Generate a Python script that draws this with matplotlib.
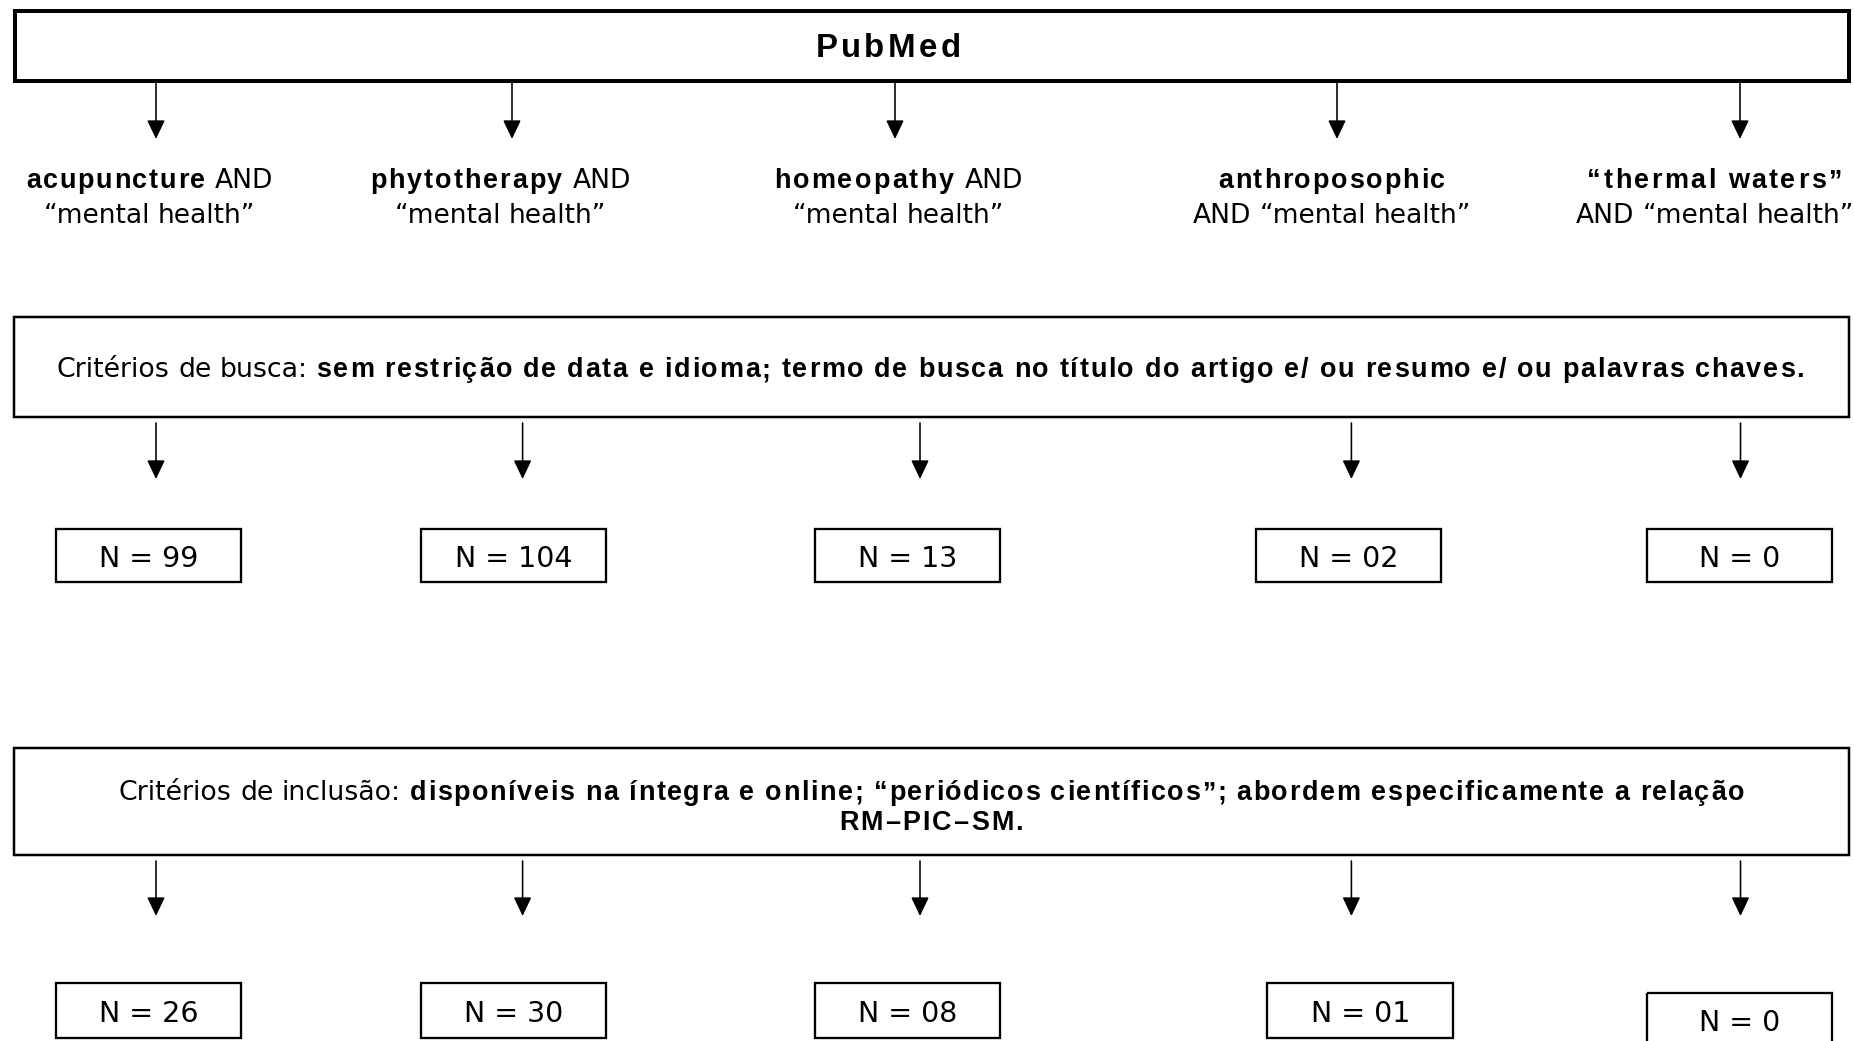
import matplotlib
matplotlib.use('Agg')
import matplotlib.pyplot as plt
from matplotlib.patches import Rectangle

# ---------------- data ----------------
source = "PubMed"
terms = ["acupuncture", "phytotherapy", "homeopathy", "anthroposophic", "“thermal waters”"]
search_counts = ["99", "104", "13", "02", "0"]
included_counts = ["26", "30", "08", "01", "0"]
search_label = "Critérios de busca: "
search_text = ("sem restrição de data e idioma; termo de busca no título do artigo "
               "e/ ou resumo e/ ou palavras chaves.")
incl_label = "Critérios de inclusão: "
incl_text_1 = ("disponíveis na íntegra e online; “periódicos científicos”; "
               "abordem especificamente a relação")
incl_text_2 = "RM–PIC–SM."
query_suffix = "“mental health”"

# ---------------- layout (pixels) ----------------
W, H, DPI = 1854, 1041, 100
fig = plt.figure(figsize=(W / DPI, H / DPI), dpi=DPI)
ax = fig.add_axes([0, 0, 1, 1])
ax.set_xlim(0, W)
ax.set_ylim(H, 0)
ax.axis('off')
fig.canvas.draw()
renderer = fig.canvas.get_renderer()

REG = dict(family='DejaVu Sans', weight='normal')
BOLD = dict(family='Liberation Sans', weight='bold')
PT = 72.0 / DPI

_cache = {}


def adv(txt, style, size):
    key = (txt, style, size)
    if key not in _cache:
        props = REG if style == 'r' else BOLD
        t1 = ax.text(0, 0, 'H' + txt + 'H', fontsize=size * PT, **props)
        t2 = ax.text(0, 0, 'HH', fontsize=size * PT, **props)
        w = t1.get_window_extent(renderer).width - t2.get_window_extent(renderer).width
        t1.remove()
        t2.remove()
        _cache[key] = w
    return _cache[key]


def draw_line(segs, cx, base, width=None, track=0.0):
    pieces = []
    for txt, style, size in segs:
        if style == 'b':
            for c in txt:
                pieces.append((c, style, size, True))
        else:
            for i, part in enumerate(txt.split(' ')):
                if i > 0:
                    pieces.append((' ', style, size, False))
                if part:
                    pieces.append((part, style, size, False))
    natural = sum(adv(p[0], p[1], p[2]) for p in pieces)
    ntr = sum(1 for p in pieces if p[3])
    if pieces and pieces[-1][3]:
        ntr -= 1
    if width is not None and ntr > 0:
        track = (width - natural) / ntr
    total = natural + track * max(ntr, 0)
    x = cx - total / 2
    for i, (txt, style, size, tr) in enumerate(pieces):
        props = REG if style == 'r' else BOLD
        if txt.strip():
            ax.text(x, base, txt, fontsize=size * PT, ha='left', va='baseline',
                    color='black', **props)
        x += adv(txt, style, size)
        if tr and i < len(pieces) - 1:
            x += track


def box(x0, y0, x1, y1, lw_px):
    ax.add_patch(Rectangle((x0, y0), x1 - x0, y1 - y0, fill=False,
                           edgecolor='black', linewidth=lw_px * PT))


def arrow(x, y0, y1):
    ax.annotate('', xy=(x, y1), xytext=(x, y0),
                arrowprops=dict(arrowstyle='-|>,head_length=0.8,head_width=0.38',
                                mutation_scale=20 * PT, lw=1.6 * PT, color='black',
                                shrinkA=0, shrinkB=0))


# PubMed box
box(14.7, 11.3, 1849, 80.7, 4)
draw_line([(source, 'b', 33)], 888, 57, width=145)

# arrows to queries
arrow_x_top = [156, 512, 895, 1337, 1740]
for x in arrow_x_top:
    arrow(x, 82, 139)

# query labels
label_cx = [149.7, 500.6, 898.5, 1331.5, 1714.5]
label_w = [247, 261, 249, 227, 254]
for i, term in enumerate(terms):
    if i < 3:
        draw_line([(term, 'b', 27), (' AND', 'r', 26.5)], label_cx[i], 188, width=label_w[i])
        draw_line([(query_suffix, 'r', 26.5)], label_cx[i], 223)
    else:
        draw_line([(term, 'b', 27)], label_cx[i], 188, width=label_w[i])
        draw_line([('AND ' + query_suffix, 'r', 26.5)], label_cx[i], 223)

# search criteria box
box(13.7, 316.7, 1849.5, 417, 2.5)
draw_line([(search_label, 'r', 26.7), (search_text, 'b', 27)], 930.4, 377, width=1747)

# arrows to search counts
arrow_x_mid = [156, 522.6, 920, 1351.4, 1740.5]
for x in arrow_x_mid:
    arrow(x, 423, 479)

# N boxes row 1
n1_left = [55.6, 421, 814.6, 1255.7, 1647]
for xl, n in zip(n1_left, search_counts):
    box(xl, 529, xl + 185.5, 582, 2.3)
    ax.text(xl + 92.75, 567, f"N = {n}", fontsize=28.5 * PT, ha='center',
            va='baseline', **REG)

# inclusion criteria box
box(13.7, 748.3, 1849.5, 855, 2.5)
draw_line([(incl_label, 'r', 26.7), (incl_text_1, 'b', 27)], 931.5, 800, width=1625)
draw_line([(incl_text_2, 'b', 27)], 931, 830, width=184)

# arrows to included counts
for x in arrow_x_mid:
    arrow(x, 861, 916)

# N boxes row 2
n2_left = [55.6, 421, 814.6, 1267.5, 1647]
n2_top = [983, 983, 983, 983, 992.7]
for xl, yt, n in zip(n2_left, n2_top, included_counts):
    box(xl, yt, xl + 185.5, yt + 55, 2.3)
    ax.text(xl + 92.75, yt + 38.5, f"N = {n}", fontsize=28.5 * PT, ha='center',
            va='baseline', **REG)

fig.savefig('out.png', dpi=DPI, facecolor='white')
